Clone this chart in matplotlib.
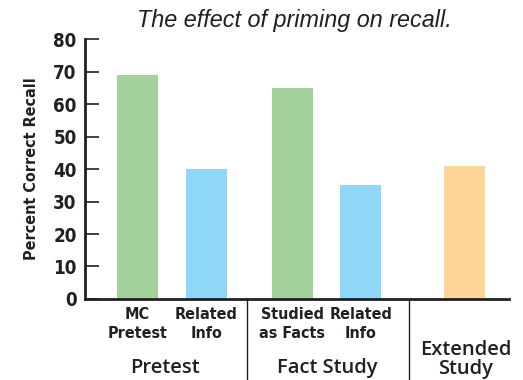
import matplotlib
matplotlib.use("Agg")
import matplotlib.pyplot as plt

# data
bar_labels = ["MC\nPretest", "Related\nInfo", "Studied\nas Facts", "Related\nInfo"]
values = [69, 40, 65, 35, 41]
colors = ["#a3d09b", "#8ed7f6", "#a3d09b", "#8ed7f6", "#fed597"]
groups = ["Pretest", "Fact Study", "Extended\nStudy"]

# layout
pos = [0, 1, 2.246, 3.239, 4.739]
group_pos = [0.4, 2.75, 4.76]
group_y = [-0.265, -0.265, -0.232]
seps = [1.587, 3.935]
ink = "#231f20"
cond = dict(fontstretch="condensed", fontweight="bold", color=ink)

fig = plt.figure(figsize=(5.23, 3.80), dpi=100)
ax = fig.add_axes([0.1625, 0.2132, 0.8105, 0.684])
ax.bar(pos, values, width=0.594, color=colors)

ax.set_xlim(-0.761, 5.384)
ax.set_ylim(0, 80)
ax.set_yticks(range(0, 81, 10))
ax.set_xticks(pos[:4])
ax.set_xticklabels(bar_labels, fontsize=11.5, linespacing=1.3, **cond)
ax.tick_params(axis="x", length=0, pad=6)
ax.tick_params(axis="y", direction="in", length=10, width=1.2, color=ink,
               pad=6)
for t in ax.get_yticklabels():
    t.set_fontsize(13.5)
    t.set(**cond)

for s in ["top", "right"]:
    ax.spines[s].set_visible(False)
for s in ["left", "bottom"]:
    ax.spines[s].set_linewidth(2)
    ax.spines[s].set_color(ink)

ax.set_ylabel("Percent Correct Recall", fontsize=11.5, labelpad=10, **cond)

for s in seps:
    ax.plot([s, s], [0, -0.32], transform=ax.get_xaxis_transform(),
            color=ink, lw=1, clip_on=False)

for g, x, y in zip(groups, group_pos, group_y):
    ax.text(x, y, g, transform=ax.get_xaxis_transform(), ha="center",
            va="center", fontsize=14.5, fontweight="semibold", color=ink,
            fontfamily="Open Sans", linespacing=0.9)

fig.text(0.562, 0.947, "The effect of priming on recall.", ha="center",
         va="center", fontsize=16.8, style="italic", color=ink,
         fontfamily="Liberation Sans")

fig.savefig("out.png", dpi=100)
